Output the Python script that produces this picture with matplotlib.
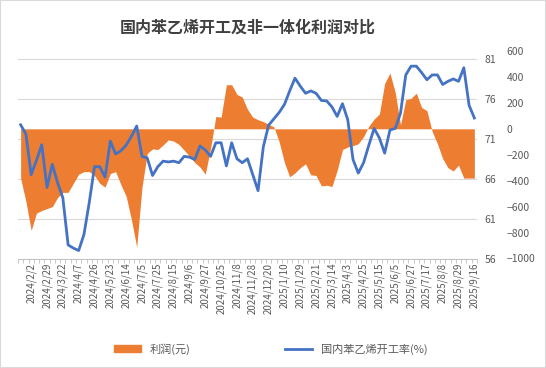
import matplotlib
matplotlib.use("Agg")
import matplotlib.pyplot as plt
from matplotlib.patches import Patch, Rectangle
from matplotlib.lines import Line2D
import numpy as np

plt.rcParams['font.family'] = ['Noto Sans CJK SC', 'DejaVu Sans']

# weekly data, 87 points; every 3rd date (from index 2) is labelled
date_labels = ["2024/2/2", "2024/2/29", "2024/3/22", "2024/4/7", "2024/4/26",
               "2024/5/23", "2024/6/14", "2024/7/5", "2024/7/25", "2024/8/15",
               "2024/9/6", "2024/9/27", "2024/10/25", "2024/11/8", "2024/11/28",
               "2024/12/20", "2025/1/10", "2025/1/29", "2025/2/21", "2025/3/14",
               "2025/4/3", "2025/4/25", "2025/5/15", "2025/6/5", "2025/6/27",
               "2025/7/17", "2025/8/8", "2025/8/29", "2025/9/16"]

profit = [-382, -560, -783, -650, -630, -615, -600, -530, -490, -490,
          -420, -350, -330, -330, -360, -420, -450, -345, -330, -430,
          -520, -700, -912, -450, -190, -155, -160, -125, -85, -95,
          -120, -165, -210, -260, -295, -350, -150, 95, 90, 340,
          340, 265, 245, 150, 90, 70, 55, 35, 15, -100,
          -260, -370, -340, -300, -270, -355, -360, -440, -435, -445,
          -320, -160, -140, -130, -115, -60, 20, 75, 115, 350,
          430, 280, 30, 225, 235, 275, 165, 140, -20, -115,
          -230, -300, -325, -280, -380, -380, -380]

rate = [72.75, 71.6, 66.5, 68.3, 70.25, 64.9, 67.8, 65.5, 63.6, 57.7,
        57.3, 57.0, 59.0, 63.0, 67.5, 67.5, 66.2, 70.7, 69.1, 69.5,
        70.2, 71.3, 72.6, 68.8, 68.6, 66.4, 67.5, 68.2, 68.1, 68.2,
        68.0, 68.8, 68.7, 68.4, 70.1, 69.6, 68.8, 70.5, 70.5, 67.6,
        70.5, 68.5, 68.0, 68.5, 66.5, 64.5, 70.0, 72.7, 73.5, 74.3,
        75.3, 77.0, 78.6, 77.6, 76.7, 77.0, 76.7, 75.8, 75.75, 75.0,
        73.8, 75.4, 73.4, 68.4, 66.7, 68.0, 70.2, 72.3, 71.1, 69.2,
        72.1, 72.3, 74.2, 79.0, 80.1, 80.1, 79.3, 78.4, 79.0, 79.0,
        77.8, 78.2, 78.5, 78.2, 79.9, 75.2, 73.6]

rate_ticks = [56, 61, 66, 71, 76, 81]
profit_ticks = list(range(-1000, 601, 200))

orange = "#ED7D31"
blue = "#4472C4"
gray = "#595959"

W, H = 546, 368
fig = plt.figure(figsize=(W / 100, H / 100), dpi=100)
fig.patches.append(Rectangle((0, 0), 1, 1, transform=fig.transFigure, fill=False,
                             edgecolor="#d9d9d9", lw=1.5))

left, right, top, bottom = 18, 477, 51, 258.5
ax = fig.add_axes([left / W, 1 - bottom / H, (right - left) / W, (bottom - top) / H])
x = np.arange(len(profit))

ax.set_xlim(-0.5, len(profit) - 0.5)
ax.set_ylim(-1000, 600)
r_lo, r_hi = 56, 82
# gridlines follow the rate axis, drawn under the area
for t in rate_ticks:
    ax.axhline(-1000 + (t - r_lo) / (r_hi - r_lo) * 1600, color="#d9d9d9", lw=0.8, zorder=0)

ax.fill_between(x, profit, 0, color=orange, lw=0, zorder=2)

ax2 = ax.twinx()
ax2.plot(x, rate, color=blue, lw=2.0, solid_joinstyle="round")
ax2.set_ylim(r_lo, r_hi)
ax2.set_yticks(rate_ticks)

ax.yaxis.tick_right()
ax.set_yticks(profit_ticks)
ax.tick_params(axis="y", length=0, pad=21.5, labelsize=7.5, labelcolor=gray)
ax2.tick_params(axis="y", length=0, pad=5.5, labelsize=7.5, labelcolor=gray)

ax.set_xticks(range(2, len(profit), 3))
ax.set_xticklabels(date_labels, rotation=90, fontsize=7, color=gray)
ax.set_xticks(np.arange(-0.5, len(profit), 1), minor=True)
ax.tick_params(axis="x", which="major", length=0, pad=3)
ax.tick_params(axis="x", which="minor", length=3, color="#bfbfbf", width=0.6)

for a in (ax, ax2):
    for s in ("top", "left", "right"):
        a.spines[s].set_visible(False)
    a.spines["bottom"].set_color("#bfbfbf")
    a.spines["bottom"].set_linewidth(0.6)

fig.text((left + right) / 2 / W, 1 - 28 / H, "国内苯乙烯开工及非一体化利润对比",
         ha="center", va="center", fontsize=11.5, fontweight="bold", color="#404040")

handles = [Patch(color=orange), Line2D([0], [0], color=blue, lw=2)]
fig.legend(handles, ["利润(元)", "国内苯乙烯开工率(%)"], loc="center",
           bbox_to_anchor=(271 / W, 1 - 349 / H), ncol=2, frameon=False,
           fontsize=8, columnspacing=8.5, handlelength=2.4, handleheight=0.6,
           labelcolor=gray)

fig.savefig("out.png", dpi=100)
